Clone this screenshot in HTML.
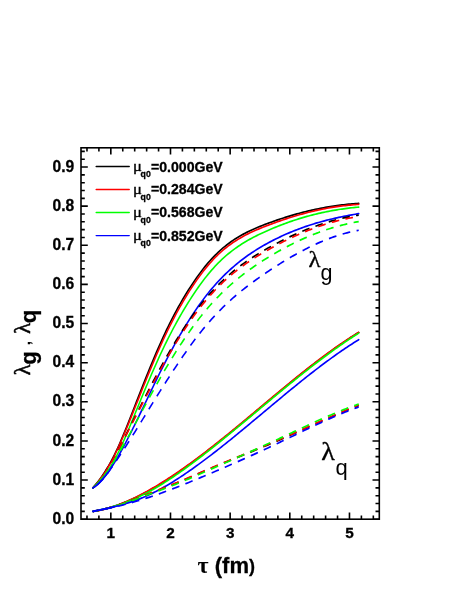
<!DOCTYPE html>
<html><head><meta charset="utf-8"><title>chart</title>
<style>html,body{margin:0;padding:0;background:#fff;}body{width:458px;height:592px;position:relative;overflow:hidden;font-family:"Liberation Sans",sans-serif;}</style>
</head><body>
<svg width="458" height="592" viewBox="0 0 458 592" style="position:absolute;left:0;top:0;will-change:transform">
<rect x="0" y="0" width="458" height="592" fill="#fff"/>
<g fill="none" stroke-width="1.55" stroke-linecap="butt" stroke-linejoin="round" transform="scale(1,1.10)">
<path d="M92.93 443.54 L94.60 441.73 L96.28 439.85 L97.95 437.90 L99.62 435.88 L101.29 433.78 L102.96 431.59 L104.63 429.30 L106.30 426.90 L107.98 424.40 L109.65 421.77 L111.32 419.02 L112.99 416.13 L114.66 413.10 L116.33 409.93 L118.01 406.63 L119.68 403.22 L121.35 399.71 L123.02 396.10 L124.69 392.41 L126.36 388.66 L128.04 384.85 L129.71 380.99 L131.38 377.11 L133.05 373.20 L134.72 369.29 L136.39 365.38 L138.07 361.48 L139.74 357.59 L141.41 353.71 L143.08 349.86 L144.75 346.03 L146.42 342.22 L148.09 338.45 L149.77 334.71 L151.44 331.01 L153.11 327.35 L154.78 323.73 L156.45 320.17 L158.12 316.66 L159.80 313.20 L161.47 309.80 L163.14 306.47 L164.81 303.20 L166.48 300.00 L168.15 296.86 L169.83 293.79 L171.50 290.79 L173.17 287.84 L174.84 284.96 L176.51 282.14 L178.18 279.37 L179.86 276.67 L181.53 274.01 L183.20 271.42 L184.87 268.87 L186.54 266.38 L188.21 263.94 L189.89 261.56 L191.56 259.22 L193.23 256.94 L194.90 254.71 L196.57 252.53 L198.24 250.40 L199.91 248.33 L201.59 246.31 L203.26 244.35 L204.93 242.44 L206.60 240.59 L208.27 238.80 L209.94 237.07 L211.62 235.39 L213.29 233.77 L214.96 232.20 L216.63 230.69 L218.30 229.23 L219.97 227.83 L221.65 226.48 L223.32 225.17 L224.99 223.92 L226.66 222.71 L228.33 221.55 L230.00 220.43 L231.68 219.35 L233.35 218.31 L235.02 217.31 L236.69 216.35 L238.36 215.42 L240.03 214.53 L241.70 213.66 L243.38 212.83 L245.05 212.03 L246.72 211.25 L248.39 210.49 L250.06 209.76 L251.73 209.06 L253.41 208.37 L255.08 207.70 L256.75 207.05 L258.42 206.42 L260.09 205.80 L261.76 205.19 L263.44 204.60 L265.11 204.01 L266.78 203.44 L268.45 202.87 L270.12 202.31 L271.79 201.76 L273.47 201.22 L275.14 200.68 L276.81 200.16 L278.48 199.64 L280.15 199.13 L281.82 198.63 L283.50 198.13 L285.17 197.65 L286.84 197.17 L288.51 196.71 L290.18 196.25 L291.85 195.80 L293.52 195.35 L295.20 194.92 L296.87 194.49 L298.54 194.08 L300.21 193.67 L301.88 193.27 L303.55 192.88 L305.23 192.49 L306.90 192.12 L308.57 191.76 L310.24 191.40 L311.91 191.05 L313.58 190.71 L315.26 190.38 L316.93 190.06 L318.60 189.75 L320.27 189.44 L321.94 189.15 L323.61 188.86 L325.29 188.59 L326.96 188.32 L328.63 188.06 L330.30 187.81 L331.97 187.57 L333.64 187.33 L335.31 187.11 L336.99 186.90 L338.66 186.69 L340.33 186.49 L342.00 186.31 L343.67 186.13 L345.34 185.96 L347.02 185.80 L348.69 185.65 L350.36 185.51 L352.03 185.38 L353.70 185.25 L355.37 185.14 L357.05 185.04 L358.72 184.94" stroke="#000000" stroke-linecap="round"/>
<path d="M92.93 443.54 L94.60 441.84 L96.28 440.06 L97.95 438.19 L99.62 436.22 L101.29 434.15 L102.96 431.99 L104.63 429.72 L106.30 427.34 L107.98 424.85 L109.65 422.24 L111.32 419.51 L112.99 416.66 L114.66 413.68 L116.33 410.58 L118.01 407.36 L119.68 404.03 L121.35 400.62 L123.02 397.12 L124.69 393.54 L126.36 389.90 L128.04 386.21 L129.71 382.47 L131.38 378.70 L133.05 374.90 L134.72 371.09 L136.39 367.28 L138.07 363.47 L139.74 359.66 L141.41 355.86 L143.08 352.07 L144.75 348.30 L146.42 344.55 L148.09 340.82 L149.77 337.13 L151.44 333.46 L153.11 329.84 L154.78 326.25 L156.45 322.71 L158.12 319.22 L159.80 315.78 L161.47 312.39 L163.14 309.06 L164.81 305.80 L166.48 302.60 L168.15 299.46 L169.83 296.39 L171.50 293.38 L173.17 290.42 L174.84 287.53 L176.51 284.70 L178.18 281.92 L179.86 279.19 L181.53 276.53 L183.20 273.91 L184.87 271.35 L186.54 268.84 L188.21 266.38 L189.89 263.97 L191.56 261.61 L193.23 259.31 L194.90 257.05 L196.57 254.85 L198.24 252.70 L199.91 250.61 L201.59 248.57 L203.26 246.58 L204.93 244.66 L206.60 242.79 L208.27 240.98 L209.94 239.22 L211.62 237.53 L213.29 235.89 L214.96 234.31 L216.63 232.79 L218.30 231.32 L219.97 229.90 L221.65 228.54 L223.32 227.22 L224.99 225.95 L226.66 224.74 L228.33 223.56 L230.00 222.43 L231.68 221.35 L233.35 220.30 L235.02 219.29 L236.69 218.32 L238.36 217.38 L240.03 216.48 L241.70 215.61 L243.38 214.77 L245.05 213.95 L246.72 213.17 L248.39 212.40 L250.06 211.66 L251.73 210.95 L253.41 210.25 L255.08 209.57 L256.75 208.91 L258.42 208.26 L260.09 207.63 L261.76 207.01 L263.44 206.40 L265.11 205.80 L266.78 205.21 L268.45 204.63 L270.12 204.05 L271.79 203.49 L273.47 202.92 L275.14 202.37 L276.81 201.82 L278.48 201.29 L280.15 200.76 L281.82 200.23 L283.50 199.72 L285.17 199.21 L286.84 198.71 L288.51 198.22 L290.18 197.74 L291.85 197.27 L293.52 196.80 L295.20 196.34 L296.87 195.89 L298.54 195.45 L300.21 195.02 L301.88 194.60 L303.55 194.18 L305.23 193.78 L306.90 193.38 L308.57 192.99 L310.24 192.62 L311.91 192.25 L313.58 191.88 L315.26 191.53 L316.93 191.19 L318.60 190.86 L320.27 190.53 L321.94 190.22 L323.61 189.92 L325.29 189.62 L326.96 189.33 L328.63 189.06 L330.30 188.79 L331.97 188.54 L333.64 188.29 L335.31 188.06 L336.99 187.83 L338.66 187.61 L340.33 187.41 L342.00 187.21 L343.67 187.03 L345.34 186.85 L347.02 186.69 L348.69 186.53 L350.36 186.39 L352.03 186.26 L353.70 186.14 L355.37 186.03 L357.05 185.93 L358.72 185.84" stroke="#ff0000" stroke-linecap="round"/>
<path d="M92.93 443.54 L94.60 441.98 L96.28 440.40 L97.95 438.78 L99.62 437.11 L101.29 435.38 L102.96 433.58 L104.63 431.69 L106.30 429.70 L107.98 427.59 L109.65 425.36 L111.32 422.99 L112.99 420.47 L114.66 417.78 L116.33 414.93 L118.01 411.93 L119.68 408.80 L121.35 405.54 L123.02 402.18 L124.69 398.72 L126.36 395.19 L128.04 391.59 L129.71 387.94 L131.38 384.25 L133.05 380.54 L134.72 376.82 L136.39 373.10 L138.07 369.40 L139.74 365.70 L141.41 362.02 L143.08 358.36 L144.75 354.72 L146.42 351.10 L148.09 347.51 L149.77 343.96 L151.44 340.43 L153.11 336.94 L154.78 333.49 L156.45 330.08 L158.12 326.72 L159.80 323.40 L161.47 320.14 L163.14 316.93 L164.81 313.77 L166.48 310.66 L168.15 307.62 L169.83 304.63 L171.50 301.69 L173.17 298.80 L174.84 295.97 L176.51 293.18 L178.18 290.45 L179.86 287.76 L181.53 285.12 L183.20 282.53 L184.87 279.99 L186.54 277.48 L188.21 275.03 L189.89 272.62 L191.56 270.25 L193.23 267.93 L194.90 265.65 L196.57 263.42 L198.24 261.24 L199.91 259.11 L201.59 257.02 L203.26 254.99 L204.93 253.01 L206.60 251.08 L208.27 249.20 L209.94 247.38 L211.62 245.61 L213.29 243.90 L214.96 242.24 L216.63 240.63 L218.30 239.07 L219.97 237.56 L221.65 236.10 L223.32 234.69 L224.99 233.32 L226.66 232.00 L228.33 230.72 L230.00 229.49 L231.68 228.29 L233.35 227.13 L235.02 226.01 L236.69 224.93 L238.36 223.88 L240.03 222.87 L241.70 221.88 L243.38 220.93 L245.05 220.00 L246.72 219.10 L248.39 218.23 L250.06 217.38 L251.73 216.55 L253.41 215.75 L255.08 214.96 L256.75 214.20 L258.42 213.45 L260.09 212.72 L261.76 212.00 L263.44 211.30 L265.11 210.61 L266.78 209.93 L268.45 209.26 L270.12 208.60 L271.79 207.96 L273.47 207.32 L275.14 206.69 L276.81 206.08 L278.48 205.47 L280.15 204.88 L281.82 204.30 L283.50 203.72 L285.17 203.16 L286.84 202.61 L288.51 202.06 L290.18 201.53 L291.85 201.01 L293.52 200.50 L295.20 200.00 L296.87 199.51 L298.54 199.03 L300.21 198.55 L301.88 198.09 L303.55 197.64 L305.23 197.20 L306.90 196.77 L308.57 196.35 L310.24 195.94 L311.91 195.54 L313.58 195.15 L315.26 194.77 L316.93 194.40 L318.60 194.04 L320.27 193.69 L321.94 193.35 L323.61 193.02 L325.29 192.70 L326.96 192.39 L328.63 192.09 L330.30 191.80 L331.97 191.51 L333.64 191.24 L335.31 190.98 L336.99 190.73 L338.66 190.48 L340.33 190.25 L342.00 190.03 L343.67 189.81 L345.34 189.61 L347.02 189.41 L348.69 189.22 L350.36 189.05 L352.03 188.88 L353.70 188.72 L355.37 188.57 L357.05 188.43 L358.72 188.30" stroke="#00ff00" stroke-linecap="round"/>
<path d="M92.93 443.54 L94.60 442.51 L96.28 441.33 L97.95 440.01 L99.62 438.55 L101.29 436.97 L102.96 435.26 L104.63 433.43 L106.30 431.48 L107.98 429.43 L109.65 427.28 L111.32 425.03 L112.99 422.68 L114.66 420.25 L116.33 417.74 L118.01 415.16 L119.68 412.50 L121.35 409.78 L123.02 406.99 L124.69 404.15 L126.36 401.26 L128.04 398.31 L129.71 395.33 L131.38 392.31 L133.05 389.26 L134.72 386.17 L136.39 383.07 L138.07 379.94 L139.74 376.80 L141.41 373.65 L143.08 370.48 L144.75 367.31 L146.42 364.14 L148.09 360.97 L149.77 357.80 L151.44 354.63 L153.11 351.48 L154.78 348.34 L156.45 345.22 L158.12 342.12 L159.80 339.05 L161.47 336.00 L163.14 332.98 L164.81 329.99 L166.48 327.05 L168.15 324.14 L169.83 321.26 L171.50 318.43 L173.17 315.63 L174.84 312.87 L176.51 310.15 L178.18 307.47 L179.86 304.83 L181.53 302.23 L183.20 299.67 L184.87 297.16 L186.54 294.68 L188.21 292.24 L189.89 289.85 L191.56 287.49 L193.23 285.18 L194.90 282.92 L196.57 280.69 L198.24 278.51 L199.91 276.37 L201.59 274.28 L203.26 272.23 L204.93 270.23 L206.60 268.27 L208.27 266.36 L209.94 264.49 L211.62 262.66 L213.29 260.88 L214.96 259.14 L216.63 257.44 L218.30 255.79 L219.97 254.17 L221.65 252.59 L223.32 251.04 L224.99 249.54 L226.66 248.07 L228.33 246.64 L230.00 245.24 L231.68 243.87 L233.35 242.54 L235.02 241.24 L236.69 239.97 L238.36 238.74 L240.03 237.53 L241.70 236.35 L243.38 235.20 L245.05 234.07 L246.72 232.97 L248.39 231.90 L250.06 230.85 L251.73 229.83 L253.41 228.83 L255.08 227.85 L256.75 226.89 L258.42 225.95 L260.09 225.03 L261.76 224.13 L263.44 223.25 L265.11 222.39 L266.78 221.54 L268.45 220.71 L270.12 219.90 L271.79 219.10 L273.47 218.31 L275.14 217.54 L276.81 216.79 L278.48 216.05 L280.15 215.32 L281.82 214.61 L283.50 213.91 L285.17 213.23 L286.84 212.56 L288.51 211.91 L290.18 211.27 L291.85 210.64 L293.52 210.02 L295.20 209.42 L296.87 208.83 L298.54 208.25 L300.21 207.69 L301.88 207.13 L303.55 206.59 L305.23 206.06 L306.90 205.55 L308.57 205.04 L310.24 204.55 L311.91 204.06 L313.58 203.59 L315.26 203.13 L316.93 202.68 L318.60 202.24 L320.27 201.80 L321.94 201.38 L323.61 200.97 L325.29 200.57 L326.96 200.18 L328.63 199.80 L330.30 199.42 L331.97 199.06 L333.64 198.70 L335.31 198.35 L336.99 198.01 L338.66 197.68 L340.33 197.36 L342.00 197.04 L343.67 196.73 L345.34 196.43 L347.02 196.14 L348.69 195.85 L350.36 195.57 L352.03 195.30 L353.70 195.03 L355.37 194.77 L357.05 194.51 L358.72 194.26" stroke="#0000ff" stroke-linecap="round"/>
<path d="M92.93 443.54 L94.60 442.05 L96.28 440.41 L97.95 438.61 L99.62 436.67 L101.29 434.60 L102.96 432.42 L104.63 430.12 L106.30 427.73 L107.98 425.24 L109.65 422.68 L111.32 420.05 L112.99 417.36 L114.66 414.63 L116.33 411.85 L118.01 409.04 L119.68 406.19 L121.35 403.32 L123.02 400.41 L124.69 397.48 L126.36 394.53 L128.04 391.57 L129.71 388.58 L131.38 385.59 L133.05 382.59 L134.72 379.58 L136.39 376.58 L138.07 373.57 L139.74 370.56 L141.41 367.56 L143.08 364.57 L144.75 361.58 L146.42 358.61 L148.09 355.65 L149.77 352.70 L151.44 349.76 L153.11 346.85 L154.78 343.95 L156.45 341.08 L158.12 338.23 L159.80 335.41 L161.47 332.62 L163.14 329.85 L164.81 327.12 L166.48 324.42 L168.15 321.75 L169.83 319.12 L171.50 316.53 L173.17 313.96 L174.84 311.44 L176.51 308.95 L178.18 306.49 L179.86 304.07 L181.53 301.69 L183.20 299.34 L184.87 297.03 L186.54 294.76 L188.21 292.52 L189.89 290.32 L191.56 288.16 L193.23 286.04 L194.90 283.96 L196.57 281.92 L198.24 279.91 L199.91 277.95 L201.59 276.02 L203.26 274.14 L204.93 272.30 L206.60 270.49 L208.27 268.73 L209.94 267.01 L211.62 265.32 L213.29 263.68 L214.96 262.07 L216.63 260.50 L218.30 258.97 L219.97 257.47 L221.65 256.00 L223.32 254.57 L224.99 253.16 L226.66 251.80 L228.33 250.46 L230.00 249.15 L231.68 247.87 L233.35 246.62 L235.02 245.39 L236.69 244.19 L238.36 243.02 L240.03 241.87 L241.70 240.75 L243.38 239.65 L245.05 238.57 L246.72 237.51 L248.39 236.47 L250.06 235.45 L251.73 234.46 L253.41 233.47 L255.08 232.51 L256.75 231.56 L258.42 230.63 L260.09 229.71 L261.76 228.81 L263.44 227.91 L265.11 227.03 L266.78 226.17 L268.45 225.31 L270.12 224.46 L271.79 223.62 L273.47 222.80 L275.14 221.98 L276.81 221.18 L278.48 220.38 L280.15 219.60 L281.82 218.83 L283.50 218.07 L285.17 217.32 L286.84 216.58 L288.51 215.85 L290.18 215.13 L291.85 214.42 L293.52 213.73 L295.20 213.05 L296.87 212.37 L298.54 211.71 L300.21 211.06 L301.88 210.42 L303.55 209.79 L305.23 209.17 L306.90 208.57 L308.57 207.97 L310.24 207.39 L311.91 206.82 L313.58 206.25 L315.26 205.71 L316.93 205.17 L318.60 204.64 L320.27 204.12 L321.94 203.62 L323.61 203.13 L325.29 202.65 L326.96 202.18 L328.63 201.72 L330.30 201.27 L331.97 200.84 L333.64 200.42 L335.31 200.01 L336.99 199.61 L338.66 199.22 L340.33 198.84 L342.00 198.48 L343.67 198.13 L345.34 197.79 L347.02 197.46 L348.69 197.14 L350.36 196.84 L352.03 196.54 L353.70 196.26 L355.37 195.99 L357.05 195.74 L358.72 195.49" stroke="#000000" stroke-dasharray="7.62 6.31" stroke-dashoffset="-1.37"/>
<path d="M92.93 443.54 L94.60 442.10 L96.28 440.48 L97.95 438.71 L99.62 436.80 L101.29 434.75 L102.96 432.57 L104.63 430.29 L106.30 427.90 L107.98 425.43 L109.65 422.88 L111.32 420.26 L112.99 417.59 L114.66 414.87 L116.33 412.12 L118.01 409.34 L119.68 406.52 L121.35 403.68 L123.02 400.82 L124.69 397.93 L126.36 395.03 L128.04 392.11 L129.71 389.19 L131.38 386.25 L133.05 383.31 L134.72 380.37 L136.39 377.43 L138.07 374.49 L139.74 371.55 L141.41 368.62 L143.08 365.70 L144.75 362.79 L146.42 359.88 L148.09 356.99 L149.77 354.11 L151.44 351.25 L153.11 348.40 L154.78 345.57 L156.45 342.76 L158.12 339.97 L159.80 337.20 L161.47 334.46 L163.14 331.74 L164.81 329.05 L166.48 326.38 L168.15 323.75 L169.83 321.14 L171.50 318.56 L173.17 316.02 L174.84 313.50 L176.51 311.02 L178.18 308.57 L179.86 306.15 L181.53 303.76 L183.20 301.41 L184.87 299.09 L186.54 296.81 L188.21 294.56 L189.89 292.35 L191.56 290.17 L193.23 288.03 L194.90 285.93 L196.57 283.87 L198.24 281.85 L199.91 279.87 L201.59 277.92 L203.26 276.02 L204.93 274.16 L206.60 272.34 L208.27 270.56 L209.94 268.83 L211.62 267.13 L213.29 265.48 L214.96 263.86 L216.63 262.28 L218.30 260.73 L219.97 259.23 L221.65 257.75 L223.32 256.31 L224.99 254.91 L226.66 253.53 L228.33 252.19 L230.00 250.88 L231.68 249.59 L233.35 248.34 L235.02 247.11 L236.69 245.91 L238.36 244.74 L240.03 243.59 L241.70 242.46 L243.38 241.36 L245.05 240.28 L246.72 239.22 L248.39 238.18 L250.06 237.16 L251.73 236.16 L253.41 235.17 L255.08 234.20 L256.75 233.25 L258.42 232.32 L260.09 231.39 L261.76 230.48 L263.44 229.59 L265.11 228.70 L266.78 227.82 L268.45 226.96 L270.12 226.10 L271.79 225.25 L273.47 224.42 L275.14 223.59 L276.81 222.77 L278.48 221.97 L280.15 221.17 L281.82 220.39 L283.50 219.62 L285.17 218.85 L286.84 218.10 L288.51 217.36 L290.18 216.63 L291.85 215.90 L293.52 215.20 L295.20 214.50 L296.87 213.81 L298.54 213.13 L300.21 212.47 L301.88 211.82 L303.55 211.17 L305.23 210.54 L306.90 209.93 L308.57 209.32 L310.24 208.72 L311.91 208.14 L313.58 207.57 L315.26 207.01 L316.93 206.46 L318.60 205.92 L320.27 205.40 L321.94 204.89 L323.61 204.39 L325.29 203.91 L326.96 203.43 L328.63 202.97 L330.30 202.52 L331.97 202.09 L333.64 201.66 L335.31 201.25 L336.99 200.86 L338.66 200.47 L340.33 200.10 L342.00 199.74 L343.67 199.40 L345.34 199.07 L347.02 198.75 L348.69 198.44 L350.36 198.15 L352.03 197.88 L353.70 197.61 L355.37 197.36 L357.05 197.13 L358.72 196.91" stroke="#ff0000" stroke-dasharray="7.66 6.34" stroke-dashoffset="-1.37"/>
<path d="M92.93 443.54 L94.60 442.12 L96.28 440.60 L97.95 438.99 L99.62 437.29 L101.29 435.50 L102.96 433.62 L104.63 431.66 L106.30 429.63 L107.98 427.51 L109.65 425.32 L111.32 423.06 L112.99 420.73 L114.66 418.33 L116.33 415.87 L118.01 413.36 L119.68 410.79 L121.35 408.17 L123.02 405.51 L124.69 402.81 L126.36 400.08 L128.04 397.33 L129.71 394.54 L131.38 391.74 L133.05 388.93 L134.72 386.11 L136.39 383.28 L138.07 380.45 L139.74 377.62 L141.41 374.80 L143.08 371.97 L144.75 369.16 L146.42 366.35 L148.09 363.54 L149.77 360.75 L151.44 357.97 L153.11 355.21 L154.78 352.46 L156.45 349.73 L158.12 347.02 L159.80 344.34 L161.47 341.67 L163.14 339.03 L164.81 336.42 L166.48 333.84 L168.15 331.29 L169.83 328.76 L171.50 326.27 L173.17 323.80 L174.84 321.37 L176.51 318.97 L178.18 316.59 L179.86 314.25 L181.53 311.94 L183.20 309.66 L184.87 307.42 L186.54 305.20 L188.21 303.02 L189.89 300.87 L191.56 298.75 L193.23 296.67 L194.90 294.62 L196.57 292.61 L198.24 290.63 L199.91 288.68 L201.59 286.77 L203.26 284.89 L204.93 283.05 L206.60 281.24 L208.27 279.47 L209.94 277.74 L211.62 276.04 L213.29 274.37 L214.96 272.74 L216.63 271.14 L218.30 269.57 L219.97 268.03 L221.65 266.52 L223.32 265.04 L224.99 263.59 L226.66 262.17 L228.33 260.77 L230.00 259.41 L231.68 258.07 L233.35 256.75 L235.02 255.46 L236.69 254.19 L238.36 252.95 L240.03 251.73 L241.70 250.53 L243.38 249.36 L245.05 248.20 L246.72 247.07 L248.39 245.95 L250.06 244.85 L251.73 243.78 L253.41 242.71 L255.08 241.67 L256.75 240.64 L258.42 239.63 L260.09 238.63 L261.76 237.64 L263.44 236.67 L265.11 235.71 L266.78 234.77 L268.45 233.83 L270.12 232.91 L271.79 231.99 L273.47 231.09 L275.14 230.21 L276.81 229.33 L278.48 228.46 L280.15 227.61 L281.82 226.77 L283.50 225.94 L285.17 225.12 L286.84 224.32 L288.51 223.53 L290.18 222.74 L291.85 221.98 L293.52 221.22 L295.20 220.47 L296.87 219.74 L298.54 219.02 L300.21 218.31 L301.88 217.62 L303.55 216.93 L305.23 216.26 L306.90 215.60 L308.57 214.95 L310.24 214.32 L311.91 213.70 L313.58 213.09 L315.26 212.49 L316.93 211.91 L318.60 211.33 L320.27 210.78 L321.94 210.23 L323.61 209.69 L325.29 209.17 L326.96 208.66 L328.63 208.17 L330.30 207.68 L331.97 207.21 L333.64 206.76 L335.31 206.31 L336.99 205.88 L338.66 205.46 L340.33 205.05 L342.00 204.66 L343.67 204.28 L345.34 203.91 L347.02 203.56 L348.69 203.22 L350.36 202.89 L352.03 202.57 L353.70 202.27 L355.37 201.98 L357.05 201.71 L358.72 201.45" stroke="#00ff00" stroke-dasharray="7.72 6.39" stroke-dashoffset="-1.37"/>
<path d="M92.93 443.54 L94.60 442.60 L96.28 441.49 L97.95 440.20 L99.62 438.77 L101.29 437.19 L102.96 435.49 L104.63 433.67 L106.30 431.75 L107.98 429.75 L109.65 427.67 L111.32 425.53 L112.99 423.34 L114.66 421.12 L116.33 418.88 L118.01 416.61 L119.68 414.31 L121.35 411.99 L123.02 409.66 L124.69 407.30 L126.36 404.93 L128.04 402.54 L129.71 400.14 L131.38 397.72 L133.05 395.30 L134.72 392.86 L136.39 390.42 L138.07 387.97 L139.74 385.51 L141.41 383.05 L143.08 380.58 L144.75 378.12 L146.42 375.65 L148.09 373.19 L149.77 370.72 L151.44 368.26 L153.11 365.80 L154.78 363.35 L156.45 360.90 L158.12 358.46 L159.80 356.03 L161.47 353.60 L163.14 351.19 L164.81 348.79 L166.48 346.41 L168.15 344.04 L169.83 341.68 L171.50 339.34 L173.17 337.01 L174.84 334.71 L176.51 332.42 L178.18 330.15 L179.86 327.90 L181.53 325.67 L183.20 323.46 L184.87 321.28 L186.54 319.12 L188.21 316.98 L189.89 314.87 L191.56 312.79 L193.23 310.73 L194.90 308.71 L196.57 306.71 L198.24 304.74 L199.91 302.80 L201.59 300.89 L203.26 299.01 L204.93 297.17 L206.60 295.36 L208.27 293.59 L209.94 291.85 L211.62 290.14 L213.29 288.47 L214.96 286.82 L216.63 285.21 L218.30 283.63 L219.97 282.08 L221.65 280.56 L223.32 279.06 L224.99 277.59 L226.66 276.15 L228.33 274.74 L230.00 273.35 L231.68 271.98 L233.35 270.64 L235.02 269.32 L236.69 268.02 L238.36 266.74 L240.03 265.48 L241.70 264.25 L243.38 263.03 L245.05 261.83 L246.72 260.65 L248.39 259.49 L250.06 258.34 L251.73 257.20 L253.41 256.09 L255.08 254.98 L256.75 253.89 L258.42 252.81 L260.09 251.74 L261.76 250.69 L263.44 249.64 L265.11 248.60 L266.78 247.57 L268.45 246.55 L270.12 245.54 L271.79 244.54 L273.47 243.54 L275.14 242.56 L276.81 241.58 L278.48 240.62 L280.15 239.66 L281.82 238.72 L283.50 237.78 L285.17 236.85 L286.84 235.94 L288.51 235.04 L290.18 234.14 L291.85 233.26 L293.52 232.39 L295.20 231.53 L296.87 230.68 L298.54 229.85 L300.21 229.02 L301.88 228.21 L303.55 227.41 L305.23 226.63 L306.90 225.85 L308.57 225.09 L310.24 224.34 L311.91 223.61 L313.58 222.89 L315.26 222.18 L316.93 221.49 L318.60 220.82 L320.27 220.15 L321.94 219.50 L323.61 218.87 L325.29 218.25 L326.96 217.65 L328.63 217.06 L330.30 216.49 L331.97 215.93 L333.64 215.39 L335.31 214.86 L336.99 214.36 L338.66 213.87 L340.33 213.39 L342.00 212.93 L343.67 212.49 L345.34 212.07 L347.02 211.66 L348.69 211.28 L350.36 210.91 L352.03 210.55 L353.70 210.22 L355.37 209.91 L357.05 209.61 L358.72 209.33" stroke="#0000ff" stroke-dasharray="7.81 6.47" stroke-dashoffset="-5.51"/>
<path d="M92.93 464.99 L94.60 464.75 L96.28 464.48 L97.95 464.19 L99.62 463.88 L101.29 463.55 L102.96 463.19 L104.63 462.81 L106.30 462.42 L107.98 462.00 L109.65 461.56 L111.32 461.10 L112.99 460.63 L114.66 460.13 L116.33 459.61 L118.01 459.08 L119.68 458.52 L121.35 457.95 L123.02 457.36 L124.69 456.75 L126.36 456.13 L128.04 455.49 L129.71 454.83 L131.38 454.15 L133.05 453.46 L134.72 452.75 L136.39 452.02 L138.07 451.28 L139.74 450.53 L141.41 449.76 L143.08 448.97 L144.75 448.17 L146.42 447.36 L148.09 446.53 L149.77 445.69 L151.44 444.83 L153.11 443.96 L154.78 443.08 L156.45 442.19 L158.12 441.28 L159.80 440.36 L161.47 439.43 L163.14 438.48 L164.81 437.53 L166.48 436.56 L168.15 435.58 L169.83 434.59 L171.50 433.59 L173.17 432.58 L174.84 431.56 L176.51 430.53 L178.18 429.49 L179.86 428.44 L181.53 427.38 L183.20 426.32 L184.87 425.24 L186.54 424.15 L188.21 423.06 L189.89 421.96 L191.56 420.85 L193.23 419.73 L194.90 418.61 L196.57 417.47 L198.24 416.33 L199.91 415.19 L201.59 414.03 L203.26 412.88 L204.93 411.71 L206.60 410.54 L208.27 409.36 L209.94 408.18 L211.62 406.99 L213.29 405.80 L214.96 404.60 L216.63 403.39 L218.30 402.18 L219.97 400.97 L221.65 399.75 L223.32 398.53 L224.99 397.30 L226.66 396.07 L228.33 394.83 L230.00 393.59 L231.68 392.35 L233.35 391.11 L235.02 389.86 L236.69 388.61 L238.36 387.35 L240.03 386.09 L241.70 384.83 L243.38 383.57 L245.05 382.30 L246.72 381.04 L248.39 379.77 L250.06 378.50 L251.73 377.23 L253.41 375.96 L255.08 374.68 L256.75 373.41 L258.42 372.14 L260.09 370.86 L261.76 369.59 L263.44 368.31 L265.11 367.04 L266.78 365.76 L268.45 364.49 L270.12 363.22 L271.79 361.94 L273.47 360.67 L275.14 359.41 L276.81 358.14 L278.48 356.87 L280.15 355.61 L281.82 354.35 L283.50 353.09 L285.17 351.84 L286.84 350.58 L288.51 349.33 L290.18 348.09 L291.85 346.85 L293.52 345.61 L295.20 344.37 L296.87 343.14 L298.54 341.92 L300.21 340.69 L301.88 339.48 L303.55 338.26 L305.23 337.06 L306.90 335.86 L308.57 334.66 L310.24 333.47 L311.91 332.29 L313.58 331.11 L315.26 329.93 L316.93 328.77 L318.60 327.61 L320.27 326.46 L321.94 325.31 L323.61 324.18 L325.29 323.05 L326.96 321.92 L328.63 320.81 L330.30 319.70 L331.97 318.60 L333.64 317.51 L335.31 316.43 L336.99 315.36 L338.66 314.30 L340.33 313.24 L342.00 312.20 L343.67 311.16 L345.34 310.13 L347.02 309.12 L348.69 308.11 L350.36 307.11 L352.03 306.13 L353.70 305.15 L355.37 304.18 L357.05 303.23 L358.72 302.29" stroke="#000000" stroke-linecap="round"/>
<path d="M92.93 464.99 L94.60 464.76 L96.28 464.51 L97.95 464.24 L99.62 463.94 L101.29 463.61 L102.96 463.26 L104.63 462.88 L106.30 462.48 L107.98 462.06 L109.65 461.61 L111.32 461.14 L112.99 460.65 L114.66 460.14 L116.33 459.61 L118.01 459.05 L119.68 458.48 L121.35 457.88 L123.02 457.27 L124.69 456.64 L126.36 455.99 L128.04 455.33 L129.71 454.64 L131.38 453.94 L133.05 453.23 L134.72 452.49 L136.39 451.75 L138.07 450.99 L139.74 450.21 L141.41 449.42 L143.08 448.62 L144.75 447.80 L146.42 446.97 L148.09 446.13 L149.77 445.27 L151.44 444.40 L153.11 443.52 L154.78 442.63 L156.45 441.73 L158.12 440.81 L159.80 439.88 L161.47 438.95 L163.14 438.00 L164.81 437.04 L166.48 436.07 L168.15 435.09 L169.83 434.09 L171.50 433.09 L173.17 432.08 L174.84 431.06 L176.51 430.03 L178.18 428.99 L179.86 427.94 L181.53 426.88 L183.20 425.82 L184.87 424.74 L186.54 423.66 L188.21 422.56 L189.89 421.46 L191.56 420.36 L193.23 419.24 L194.90 418.12 L196.57 416.99 L198.24 415.85 L199.91 414.71 L201.59 413.56 L203.26 412.40 L204.93 411.24 L206.60 410.07 L208.27 408.90 L209.94 407.71 L211.62 406.53 L213.29 405.34 L214.96 404.14 L216.63 402.94 L218.30 401.73 L219.97 400.51 L221.65 399.30 L223.32 398.08 L224.99 396.85 L226.66 395.62 L228.33 394.39 L230.00 393.15 L231.68 391.91 L233.35 390.66 L235.02 389.41 L236.69 388.16 L238.36 386.91 L240.03 385.65 L241.70 384.39 L243.38 383.13 L245.05 381.87 L246.72 380.60 L248.39 379.34 L250.06 378.07 L251.73 376.80 L253.41 375.53 L255.08 374.25 L256.75 372.98 L258.42 371.71 L260.09 370.44 L261.76 369.16 L263.44 367.89 L265.11 366.62 L266.78 365.34 L268.45 364.07 L270.12 362.80 L271.79 361.53 L273.47 360.26 L275.14 358.99 L276.81 357.73 L278.48 356.47 L280.15 355.20 L281.82 353.95 L283.50 352.69 L285.17 351.44 L286.84 350.19 L288.51 348.94 L290.18 347.69 L291.85 346.45 L293.52 345.22 L295.20 343.99 L296.87 342.76 L298.54 341.53 L300.21 340.32 L301.88 339.10 L303.55 337.89 L305.23 336.69 L306.90 335.49 L308.57 334.30 L310.24 333.11 L311.91 331.93 L313.58 330.76 L315.26 329.59 L316.93 328.43 L318.60 327.27 L320.27 326.13 L321.94 324.98 L323.61 323.85 L325.29 322.73 L326.96 321.61 L328.63 320.50 L330.30 319.40 L331.97 318.30 L333.64 317.22 L335.31 316.14 L336.99 315.08 L338.66 314.02 L340.33 312.97 L342.00 311.93 L343.67 310.90 L345.34 309.88 L347.02 308.87 L348.69 307.87 L350.36 306.88 L352.03 305.91 L353.70 304.94 L355.37 303.98 L357.05 303.03 L358.72 302.10" stroke="#ff0000" stroke-linecap="round"/>
<path d="M92.93 464.89 L94.60 464.61 L96.28 464.32 L97.95 464.02 L99.62 463.70 L101.29 463.37 L102.96 463.02 L104.63 462.65 L106.30 462.27 L107.98 461.88 L109.65 461.47 L111.32 461.04 L112.99 460.60 L114.66 460.14 L116.33 459.67 L118.01 459.18 L119.68 458.67 L121.35 458.14 L123.02 457.60 L124.69 457.05 L126.36 456.47 L128.04 455.88 L129.71 455.27 L131.38 454.65 L133.05 454.00 L134.72 453.34 L136.39 452.66 L138.07 451.97 L139.74 451.25 L141.41 450.52 L143.08 449.77 L144.75 449.00 L146.42 448.21 L148.09 447.41 L149.77 446.59 L151.44 445.76 L153.11 444.90 L154.78 444.03 L156.45 443.15 L158.12 442.25 L159.80 441.34 L161.47 440.41 L163.14 439.47 L164.81 438.52 L166.48 437.55 L168.15 436.57 L169.83 435.57 L171.50 434.57 L173.17 433.55 L174.84 432.52 L176.51 431.48 L178.18 430.43 L179.86 429.37 L181.53 428.29 L183.20 427.21 L184.87 426.12 L186.54 425.02 L188.21 423.91 L189.89 422.79 L191.56 421.67 L193.23 420.53 L194.90 419.39 L196.57 418.24 L198.24 417.09 L199.91 415.92 L201.59 414.76 L203.26 413.58 L204.93 412.40 L206.60 411.22 L208.27 410.03 L209.94 408.83 L211.62 407.63 L213.29 406.43 L214.96 405.22 L216.63 404.00 L218.30 402.78 L219.97 401.56 L221.65 400.34 L223.32 399.10 L224.99 397.87 L226.66 396.63 L228.33 395.39 L230.00 394.15 L231.68 392.90 L233.35 391.65 L235.02 390.40 L236.69 389.15 L238.36 387.89 L240.03 386.63 L241.70 385.37 L243.38 384.11 L245.05 382.84 L246.72 381.58 L248.39 380.31 L250.06 379.05 L251.73 377.78 L253.41 376.51 L255.08 375.24 L256.75 373.97 L258.42 372.70 L260.09 371.43 L261.76 370.16 L263.44 368.89 L265.11 367.63 L266.78 366.36 L268.45 365.09 L270.12 363.83 L271.79 362.56 L273.47 361.30 L275.14 360.04 L276.81 358.78 L278.48 357.52 L280.15 356.26 L281.82 355.01 L283.50 353.76 L285.17 352.51 L286.84 351.27 L288.51 350.02 L290.18 348.79 L291.85 347.55 L293.52 346.32 L295.20 345.09 L296.87 343.86 L298.54 342.64 L300.21 341.43 L301.88 340.22 L303.55 339.01 L305.23 337.81 L306.90 336.61 L308.57 335.41 L310.24 334.23 L311.91 333.04 L313.58 331.87 L315.26 330.70 L316.93 329.53 L318.60 328.37 L320.27 327.22 L321.94 326.08 L323.61 324.94 L325.29 323.80 L326.96 322.68 L328.63 321.56 L330.30 320.45 L331.97 319.35 L333.64 318.25 L335.31 317.16 L336.99 316.08 L338.66 315.01 L340.33 313.95 L342.00 312.89 L343.67 311.85 L345.34 310.81 L347.02 309.78 L348.69 308.76 L350.36 307.75 L352.03 306.75 L353.70 305.76 L355.37 304.78 L357.05 303.81 L358.72 302.85" stroke="#00ff00" stroke-linecap="round"/>
<path d="M92.93 464.89 L94.60 464.58 L96.28 464.27 L97.95 463.96 L99.62 463.65 L101.29 463.33 L102.96 463.01 L104.63 462.68 L106.30 462.35 L107.98 462.01 L109.65 461.67 L111.32 461.32 L112.99 460.96 L114.66 460.59 L116.33 460.21 L118.01 459.82 L119.68 459.42 L121.35 459.00 L123.02 458.58 L124.69 458.14 L126.36 457.69 L128.04 457.22 L129.71 456.74 L131.38 456.24 L133.05 455.72 L134.72 455.19 L136.39 454.64 L138.07 454.07 L139.74 453.48 L141.41 452.87 L143.08 452.24 L144.75 451.60 L146.42 450.93 L148.09 450.24 L149.77 449.53 L151.44 448.81 L153.11 448.06 L154.78 447.30 L156.45 446.52 L158.12 445.73 L159.80 444.91 L161.47 444.09 L163.14 443.24 L164.81 442.38 L166.48 441.50 L168.15 440.61 L169.83 439.70 L171.50 438.78 L173.17 437.85 L174.84 436.90 L176.51 435.94 L178.18 434.96 L179.86 433.98 L181.53 432.98 L183.20 431.96 L184.87 430.94 L186.54 429.90 L188.21 428.86 L189.89 427.80 L191.56 426.74 L193.23 425.66 L194.90 424.57 L196.57 423.48 L198.24 422.38 L199.91 421.26 L201.59 420.14 L203.26 419.01 L204.93 417.88 L206.60 416.73 L208.27 415.58 L209.94 414.43 L211.62 413.26 L213.29 412.09 L214.96 410.91 L216.63 409.73 L218.30 408.54 L219.97 407.34 L221.65 406.14 L223.32 404.93 L224.99 403.72 L226.66 402.51 L228.33 401.28 L230.00 400.06 L231.68 398.83 L233.35 397.59 L235.02 396.36 L236.69 395.11 L238.36 393.87 L240.03 392.62 L241.70 391.37 L243.38 390.11 L245.05 388.86 L246.72 387.60 L248.39 386.34 L250.06 385.07 L251.73 383.81 L253.41 382.54 L255.08 381.27 L256.75 380.00 L258.42 378.73 L260.09 377.46 L261.76 376.19 L263.44 374.92 L265.11 373.65 L266.78 372.37 L268.45 371.10 L270.12 369.83 L271.79 368.56 L273.47 367.29 L275.14 366.03 L276.81 364.76 L278.48 363.49 L280.15 362.23 L281.82 360.97 L283.50 359.71 L285.17 358.46 L286.84 357.20 L288.51 355.95 L290.18 354.70 L291.85 353.46 L293.52 352.22 L295.20 350.98 L296.87 349.75 L298.54 348.52 L300.21 347.29 L301.88 346.07 L303.55 344.86 L305.23 343.65 L306.90 342.44 L308.57 341.25 L310.24 340.05 L311.91 338.86 L313.58 337.68 L315.26 336.51 L316.93 335.34 L318.60 334.17 L320.27 333.02 L321.94 331.87 L323.61 330.73 L325.29 329.59 L326.96 328.47 L328.63 327.35 L330.30 326.24 L331.97 325.14 L333.64 324.05 L335.31 322.96 L336.99 321.89 L338.66 320.82 L340.33 319.77 L342.00 318.72 L343.67 317.68 L345.34 316.66 L347.02 315.64 L348.69 314.63 L350.36 313.64 L352.03 312.65 L353.70 311.68 L355.37 310.72 L357.05 309.77 L358.72 308.83" stroke="#0000ff" stroke-linecap="round"/>
<path d="M92.93 464.89 L94.60 464.62 L96.28 464.34 L97.95 464.04 L99.62 463.72 L101.29 463.38 L102.96 463.03 L104.63 462.66 L106.30 462.27 L107.98 461.87 L109.65 461.45 L111.32 461.02 L112.99 460.58 L114.66 460.13 L116.33 459.66 L118.01 459.18 L119.68 458.69 L121.35 458.19 L123.02 457.68 L124.69 457.16 L126.36 456.63 L128.04 456.09 L129.71 455.55 L131.38 455.00 L133.05 454.45 L134.72 453.89 L136.39 453.32 L138.07 452.76 L139.74 452.18 L141.41 451.61 L143.08 451.04 L144.75 450.46 L146.42 449.88 L148.09 449.30 L149.77 448.72 L151.44 448.14 L153.11 447.55 L154.78 446.97 L156.45 446.38 L158.12 445.80 L159.80 445.21 L161.47 444.62 L163.14 444.03 L164.81 443.43 L166.48 442.84 L168.15 442.24 L169.83 441.63 L171.50 441.03 L173.17 440.42 L174.84 439.80 L176.51 439.19 L178.18 438.56 L179.86 437.94 L181.53 437.30 L183.20 436.67 L184.87 436.03 L186.54 435.38 L188.21 434.74 L189.89 434.08 L191.56 433.43 L193.23 432.77 L194.90 432.11 L196.57 431.45 L198.24 430.79 L199.91 430.13 L201.59 429.47 L203.26 428.82 L204.93 428.16 L206.60 427.50 L208.27 426.85 L209.94 426.20 L211.62 425.55 L213.29 424.91 L214.96 424.27 L216.63 423.63 L218.30 422.99 L219.97 422.35 L221.65 421.72 L223.32 421.09 L224.99 420.47 L226.66 419.84 L228.33 419.22 L230.00 418.59 L231.68 417.97 L233.35 417.35 L235.02 416.73 L236.69 416.12 L238.36 415.50 L240.03 414.88 L241.70 414.26 L243.38 413.65 L245.05 413.03 L246.72 412.41 L248.39 411.79 L250.06 411.17 L251.73 410.55 L253.41 409.92 L255.08 409.30 L256.75 408.67 L258.42 408.04 L260.09 407.41 L261.76 406.78 L263.44 406.15 L265.11 405.51 L266.78 404.88 L268.45 404.23 L270.12 403.59 L271.79 402.95 L273.47 402.30 L275.14 401.65 L276.81 400.99 L278.48 400.33 L280.15 399.67 L281.82 399.01 L283.50 398.35 L285.17 397.68 L286.84 397.01 L288.51 396.33 L290.18 395.66 L291.85 394.98 L293.52 394.30 L295.20 393.62 L296.87 392.94 L298.54 392.26 L300.21 391.58 L301.88 390.90 L303.55 390.21 L305.23 389.53 L306.90 388.85 L308.57 388.16 L310.24 387.48 L311.91 386.80 L313.58 386.12 L315.26 385.44 L316.93 384.76 L318.60 384.08 L320.27 383.40 L321.94 382.73 L323.61 382.05 L325.29 381.38 L326.96 380.71 L328.63 380.05 L330.30 379.38 L331.97 378.72 L333.64 378.06 L335.31 377.41 L336.99 376.76 L338.66 376.11 L340.33 375.46 L342.00 374.83 L343.67 374.19 L345.34 373.56 L347.02 372.93 L348.69 372.31 L350.36 371.69 L352.03 371.08 L353.70 370.47 L355.37 369.87 L357.05 369.28 L358.72 368.69" stroke="#000000" stroke-dasharray="7.68 6.36" stroke-dashoffset="-12.00"/>
<path d="M92.93 464.89 L94.60 464.63 L96.28 464.35 L97.95 464.06 L99.62 463.74 L101.29 463.40 L102.96 463.05 L104.63 462.68 L106.30 462.29 L107.98 461.88 L109.65 461.46 L111.32 461.02 L112.99 460.57 L114.66 460.10 L116.33 459.62 L118.01 459.13 L119.68 458.63 L121.35 458.12 L123.02 457.59 L124.69 457.06 L126.36 456.52 L128.04 455.97 L129.71 455.41 L131.38 454.84 L133.05 454.27 L134.72 453.70 L136.39 453.12 L138.07 452.54 L139.74 451.96 L141.41 451.37 L143.08 450.78 L144.75 450.20 L146.42 449.61 L148.09 449.02 L149.77 448.43 L151.44 447.84 L153.11 447.25 L154.78 446.66 L156.45 446.06 L158.12 445.47 L159.80 444.88 L161.47 444.28 L163.14 443.69 L164.81 443.09 L166.48 442.49 L168.15 441.89 L169.83 441.28 L171.50 440.67 L173.17 440.06 L174.84 439.44 L176.51 438.83 L178.18 438.20 L179.86 437.57 L181.53 436.94 L183.20 436.30 L184.87 435.66 L186.54 435.02 L188.21 434.37 L189.89 433.72 L191.56 433.07 L193.23 432.41 L194.90 431.75 L196.57 431.09 L198.24 430.43 L199.91 429.77 L201.59 429.12 L203.26 428.46 L204.93 427.80 L206.60 427.15 L208.27 426.49 L209.94 425.84 L211.62 425.20 L213.29 424.55 L214.96 423.91 L216.63 423.27 L218.30 422.63 L219.97 422.00 L221.65 421.37 L223.32 420.74 L224.99 420.11 L226.66 419.48 L228.33 418.86 L230.00 418.24 L231.68 417.62 L233.35 417.00 L235.02 416.38 L236.69 415.76 L238.36 415.14 L240.03 414.53 L241.70 413.91 L243.38 413.29 L245.05 412.67 L246.72 412.05 L248.39 411.43 L250.06 410.81 L251.73 410.19 L253.41 409.57 L255.08 408.94 L256.75 408.32 L258.42 407.69 L260.09 407.06 L261.76 406.43 L263.44 405.79 L265.11 405.16 L266.78 404.52 L268.45 403.88 L270.12 403.24 L271.79 402.59 L273.47 401.94 L275.14 401.29 L276.81 400.64 L278.48 399.98 L280.15 399.32 L281.82 398.65 L283.50 397.99 L285.17 397.32 L286.84 396.65 L288.51 395.98 L290.18 395.30 L291.85 394.63 L293.52 393.95 L295.20 393.27 L296.87 392.59 L298.54 391.91 L300.21 391.22 L301.88 390.54 L303.55 389.86 L305.23 389.17 L306.90 388.49 L308.57 387.81 L310.24 387.12 L311.91 386.44 L313.58 385.76 L315.26 385.08 L316.93 384.40 L318.60 383.72 L320.27 383.04 L321.94 382.37 L323.61 381.70 L325.29 381.03 L326.96 380.36 L328.63 379.69 L330.30 379.03 L331.97 378.37 L333.64 377.71 L335.31 377.05 L336.99 376.40 L338.66 375.75 L340.33 375.11 L342.00 374.47 L343.67 373.83 L345.34 373.20 L347.02 372.58 L348.69 371.95 L350.36 371.34 L352.03 370.72 L353.70 370.12 L355.37 369.52 L357.05 368.92 L358.72 368.33" stroke="#ff0000" stroke-dasharray="7.68 6.36" stroke-dashoffset="-12.00"/>
<path d="M92.93 464.89 L94.60 464.65 L96.28 464.39 L97.95 464.10 L99.62 463.80 L101.29 463.48 L102.96 463.15 L104.63 462.79 L106.30 462.42 L107.98 462.03 L109.65 461.62 L111.32 461.21 L112.99 460.77 L114.66 460.33 L116.33 459.87 L118.01 459.39 L119.68 458.91 L121.35 458.42 L123.02 457.91 L124.69 457.40 L126.36 456.88 L128.04 456.35 L129.71 455.82 L131.38 455.28 L133.05 454.73 L134.72 454.18 L136.39 453.63 L138.07 453.07 L139.74 452.51 L141.41 451.95 L143.08 451.39 L144.75 450.83 L146.42 450.27 L148.09 449.71 L149.77 449.15 L151.44 448.58 L153.11 448.02 L154.78 447.46 L156.45 446.89 L158.12 446.33 L159.80 445.76 L161.47 445.19 L163.14 444.62 L164.81 444.05 L166.48 443.47 L168.15 442.89 L169.83 442.31 L171.50 441.73 L173.17 441.13 L174.84 440.54 L176.51 439.94 L178.18 439.33 L179.86 438.71 L181.53 438.10 L183.20 437.47 L184.87 436.84 L186.54 436.20 L188.21 435.56 L189.89 434.91 L191.56 434.26 L193.23 433.60 L194.90 432.94 L196.57 432.28 L198.24 431.61 L199.91 430.94 L201.59 430.27 L203.26 429.59 L204.93 428.92 L206.60 428.24 L208.27 427.57 L209.94 426.89 L211.62 426.22 L213.29 425.54 L214.96 424.87 L216.63 424.19 L218.30 423.52 L219.97 422.85 L221.65 422.18 L223.32 421.51 L224.99 420.84 L226.66 420.17 L228.33 419.50 L230.00 418.83 L231.68 418.16 L233.35 417.49 L235.02 416.82 L236.69 416.15 L238.36 415.48 L240.03 414.81 L241.70 414.14 L243.38 413.47 L245.05 412.80 L246.72 412.12 L248.39 411.45 L250.06 410.77 L251.73 410.09 L253.41 409.41 L255.08 408.73 L256.75 408.05 L258.42 407.37 L260.09 406.68 L261.76 405.99 L263.44 405.30 L265.11 404.61 L266.78 403.92 L268.45 403.23 L270.12 402.53 L271.79 401.84 L273.47 401.14 L275.14 400.44 L276.81 399.74 L278.48 399.03 L280.15 398.32 L281.82 397.62 L283.50 396.91 L285.17 396.20 L286.84 395.49 L288.51 394.78 L290.18 394.06 L291.85 393.35 L293.52 392.64 L295.20 391.93 L296.87 391.22 L298.54 390.50 L300.21 389.79 L301.88 389.09 L303.55 388.38 L305.23 387.67 L306.90 386.97 L308.57 386.27 L310.24 385.57 L311.91 384.87 L313.58 384.17 L315.26 383.48 L316.93 382.80 L318.60 382.11 L320.27 381.43 L321.94 380.75 L323.61 380.08 L325.29 379.41 L326.96 378.74 L328.63 378.08 L330.30 377.43 L331.97 376.78 L333.64 376.13 L335.31 375.50 L336.99 374.86 L338.66 374.24 L340.33 373.62 L342.00 373.00 L343.67 372.40 L345.34 371.79 L347.02 371.20 L348.69 370.62 L350.36 370.04 L352.03 369.47 L353.70 368.91 L355.37 368.35 L357.05 367.81 L358.72 367.27" stroke="#00ff00" stroke-dasharray="7.68 6.36" stroke-dashoffset="-12.00"/>
<path d="M92.93 464.89 L94.60 464.62 L96.28 464.34 L97.95 464.06 L99.62 463.78 L101.29 463.48 L102.96 463.18 L104.63 462.88 L106.30 462.56 L107.98 462.24 L109.65 461.92 L111.32 461.58 L112.99 461.24 L114.66 460.90 L116.33 460.54 L118.01 460.18 L119.68 459.81 L121.35 459.43 L123.02 459.05 L124.69 458.66 L126.36 458.26 L128.04 457.86 L129.71 457.45 L131.38 457.03 L133.05 456.60 L134.72 456.16 L136.39 455.72 L138.07 455.27 L139.74 454.81 L141.41 454.35 L143.08 453.87 L144.75 453.39 L146.42 452.90 L148.09 452.41 L149.77 451.90 L151.44 451.39 L153.11 450.88 L154.78 450.35 L156.45 449.82 L158.12 449.29 L159.80 448.75 L161.47 448.20 L163.14 447.65 L164.81 447.09 L166.48 446.52 L168.15 445.95 L169.83 445.38 L171.50 444.80 L173.17 444.22 L174.84 443.63 L176.51 443.04 L178.18 442.44 L179.86 441.84 L181.53 441.24 L183.20 440.63 L184.87 440.02 L186.54 439.41 L188.21 438.80 L189.89 438.18 L191.56 437.55 L193.23 436.93 L194.90 436.30 L196.57 435.68 L198.24 435.05 L199.91 434.41 L201.59 433.78 L203.26 433.14 L204.93 432.51 L206.60 431.87 L208.27 431.23 L209.94 430.59 L211.62 429.95 L213.29 429.30 L214.96 428.65 L216.63 428.01 L218.30 427.36 L219.97 426.70 L221.65 426.05 L223.32 425.40 L224.99 424.74 L226.66 424.08 L228.33 423.42 L230.00 422.76 L231.68 422.09 L233.35 421.43 L235.02 420.76 L236.69 420.09 L238.36 419.42 L240.03 418.75 L241.70 418.07 L243.38 417.39 L245.05 416.71 L246.72 416.03 L248.39 415.35 L250.06 414.66 L251.73 413.97 L253.41 413.28 L255.08 412.59 L256.75 411.90 L258.42 411.20 L260.09 410.50 L261.76 409.80 L263.44 409.10 L265.11 408.39 L266.78 407.68 L268.45 406.97 L270.12 406.26 L271.79 405.54 L273.47 404.83 L275.14 404.11 L276.81 403.39 L278.48 402.66 L280.15 401.94 L281.82 401.21 L283.50 400.48 L285.17 399.74 L286.84 399.01 L288.51 398.28 L290.18 397.54 L291.85 396.80 L293.52 396.07 L295.20 395.33 L296.87 394.60 L298.54 393.86 L300.21 393.13 L301.88 392.40 L303.55 391.66 L305.23 390.93 L306.90 390.21 L308.57 389.48 L310.24 388.76 L311.91 388.03 L313.58 387.32 L315.26 386.60 L316.93 385.89 L318.60 385.18 L320.27 384.48 L321.94 383.78 L323.61 383.08 L325.29 382.39 L326.96 381.71 L328.63 381.03 L330.30 380.36 L331.97 379.69 L333.64 379.03 L335.31 378.37 L336.99 377.72 L338.66 377.08 L340.33 376.44 L342.00 375.82 L343.67 375.20 L345.34 374.58 L347.02 373.98 L348.69 373.38 L350.36 372.80 L352.03 372.22 L353.70 371.65 L355.37 371.09 L357.05 370.54 L358.72 370.01" stroke="#0000ff" stroke-dasharray="7.68 6.36" stroke-dashoffset="-11.70"/>
<path d="M92.93 443.54 L93.72 443.07 L94.50 442.57 L95.29 442.04 L96.07 441.48 L96.86 440.88 L97.64 440.26 L98.43 439.60 L99.21 438.92 L100.00 438.20 L100.78 437.46 L101.57 436.69 L102.35 435.89 L103.14 435.07 L103.92 434.22 L104.71 433.34 L105.49 432.44 L106.28 431.52 L107.06 430.57 L107.85 429.59" stroke="#0000ff" stroke-linecap="round"/>
<path d="M92.93 464.89 L94.03 464.68 L95.13 464.48 L96.23 464.28 L97.33 464.08 L98.43 463.87 L99.53 463.67 L100.62 463.46 L101.72 463.25 L102.82 463.04 L103.92 462.82 L105.02 462.61 L106.12 462.39 L107.22 462.17 L108.32 461.94 L109.42 461.72 L110.52 461.49 L111.61 461.25 L112.71 461.02 L113.81 460.78" stroke="#0000ff" stroke-linecap="round"/>
</g>
<g stroke="#000" fill="none">
<rect x="81.00" y="147.80" width="298.30" height="371.40" stroke-width="1.6"/>
<path d="M86.97 519.20 v-3.80 M86.97 147.80 v3.80 M98.90 519.20 v-3.80 M98.90 147.80 v3.80 M110.83 519.20 v-6.80 M110.83 147.80 v6.80 M122.76 519.20 v-3.80 M122.76 147.80 v3.80 M134.69 519.20 v-3.80 M134.69 147.80 v3.80 M146.63 519.20 v-3.80 M146.63 147.80 v3.80 M158.56 519.20 v-3.80 M158.56 147.80 v3.80 M170.49 519.20 v-6.80 M170.49 147.80 v6.80 M182.42 519.20 v-3.80 M182.42 147.80 v3.80 M194.35 519.20 v-3.80 M194.35 147.80 v3.80 M206.29 519.20 v-3.80 M206.29 147.80 v3.80 M218.22 519.20 v-3.80 M218.22 147.80 v3.80 M230.15 519.20 v-6.80 M230.15 147.80 v6.80 M242.08 519.20 v-3.80 M242.08 147.80 v3.80 M254.01 519.20 v-3.80 M254.01 147.80 v3.80 M265.95 519.20 v-3.80 M265.95 147.80 v3.80 M277.88 519.20 v-3.80 M277.88 147.80 v3.80 M289.81 519.20 v-6.80 M289.81 147.80 v6.80 M301.74 519.20 v-3.80 M301.74 147.80 v3.80 M313.67 519.20 v-3.80 M313.67 147.80 v3.80 M325.61 519.20 v-3.80 M325.61 147.80 v3.80 M337.54 519.20 v-3.80 M337.54 147.80 v3.80 M349.47 519.20 v-6.80 M349.47 147.80 v6.80 M361.40 519.20 v-3.80 M361.40 147.80 v3.80 M373.33 519.20 v-3.80 M373.33 147.80 v3.80 M81.00 519.20 h6.80 M379.30 519.20 h-6.80 M81.00 511.37 h3.80 M379.30 511.37 h-3.80 M81.00 503.55 h3.80 M379.30 503.55 h-3.80 M81.00 495.72 h3.80 M379.30 495.72 h-3.80 M81.00 487.90 h3.80 M379.30 487.90 h-3.80 M81.00 480.07 h6.80 M379.30 480.07 h-6.80 M81.00 472.24 h3.80 M379.30 472.24 h-3.80 M81.00 464.42 h3.80 M379.30 464.42 h-3.80 M81.00 456.59 h3.80 M379.30 456.59 h-3.80 M81.00 448.77 h3.80 M379.30 448.77 h-3.80 M81.00 440.94 h6.80 M379.30 440.94 h-6.80 M81.00 433.11 h3.80 M379.30 433.11 h-3.80 M81.00 425.29 h3.80 M379.30 425.29 h-3.80 M81.00 417.46 h3.80 M379.30 417.46 h-3.80 M81.00 409.64 h3.80 M379.30 409.64 h-3.80 M81.00 401.81 h6.80 M379.30 401.81 h-6.80 M81.00 393.98 h3.80 M379.30 393.98 h-3.80 M81.00 386.16 h3.80 M379.30 386.16 h-3.80 M81.00 378.33 h3.80 M379.30 378.33 h-3.80 M81.00 370.51 h3.80 M379.30 370.51 h-3.80 M81.00 362.68 h6.80 M379.30 362.68 h-6.80 M81.00 354.85 h3.80 M379.30 354.85 h-3.80 M81.00 347.03 h3.80 M379.30 347.03 h-3.80 M81.00 339.20 h3.80 M379.30 339.20 h-3.80 M81.00 331.38 h3.80 M379.30 331.38 h-3.80 M81.00 323.55 h6.80 M379.30 323.55 h-6.80 M81.00 315.72 h3.80 M379.30 315.72 h-3.80 M81.00 307.90 h3.80 M379.30 307.90 h-3.80 M81.00 300.07 h3.80 M379.30 300.07 h-3.80 M81.00 292.25 h3.80 M379.30 292.25 h-3.80 M81.00 284.42 h6.80 M379.30 284.42 h-6.80 M81.00 276.59 h3.80 M379.30 276.59 h-3.80 M81.00 268.77 h3.80 M379.30 268.77 h-3.80 M81.00 260.94 h3.80 M379.30 260.94 h-3.80 M81.00 253.12 h3.80 M379.30 253.12 h-3.80 M81.00 245.29 h6.80 M379.30 245.29 h-6.80 M81.00 237.46 h3.80 M379.30 237.46 h-3.80 M81.00 229.64 h3.80 M379.30 229.64 h-3.80 M81.00 221.81 h3.80 M379.30 221.81 h-3.80 M81.00 213.99 h3.80 M379.30 213.99 h-3.80 M81.00 206.16 h6.80 M379.30 206.16 h-6.80 M81.00 198.33 h3.80 M379.30 198.33 h-3.80 M81.00 190.51 h3.80 M379.30 190.51 h-3.80 M81.00 182.68 h3.80 M379.30 182.68 h-3.80 M81.00 174.86 h3.80 M379.30 174.86 h-3.80 M81.00 167.03 h6.80 M379.30 167.03 h-6.80 M81.00 159.20 h3.80 M379.30 159.20 h-3.80 M81.00 151.38 h3.80 M379.30 151.38 h-3.80" stroke-width="1.6"/>
</g>
<g stroke-width="1.45" fill="none" stroke-linecap="round">
<path d="M96.2 166.4 H129.2" stroke="#000000"/>
<path d="M96.2 189.4 H129.2" stroke="#ff0000"/>
<path d="M96.2 212.4 H129.2" stroke="#00ff00"/>
<path d="M96.2 235.6 H129.2" stroke="#0000ff"/>
</g>
<g font-family="Liberation Sans, sans-serif" fill="#000">
<g font-weight="bold" font-size="15.6px" text-anchor="end" stroke="#000" stroke-width="0.3">
<text x="74.2" y="523.80">0.0</text>
<text x="74.2" y="484.67">0.1</text>
<text x="74.2" y="445.54">0.2</text>
<text x="74.2" y="406.41">0.3</text>
<text x="74.2" y="367.28">0.4</text>
<text x="74.2" y="328.15">0.5</text>
<text x="74.2" y="289.02">0.6</text>
<text x="74.2" y="249.89">0.7</text>
<text x="74.2" y="210.76">0.8</text>
<text x="74.2" y="171.63">0.9</text>
</g>
<g font-weight="bold" font-size="15.3px" text-anchor="middle" stroke="#000" stroke-width="0.3">
<text x="110.83" y="538.4">1</text>
<text x="170.49" y="538.4">2</text>
<text x="230.15" y="538.4">3</text>
<text x="289.81" y="538.4">4</text>
<text x="349.47" y="538.4">5</text>
</g>
<text transform="translate(132.9,171.2) scale(1.12,1)" font-size="14.8px" font-family="Liberation Serif, serif" stroke="#000" stroke-width="0.35">μ</text>
<text x="140.6" y="176.8" font-size="8.7px" font-weight="bold" stroke="#000" stroke-width="0.3">q0</text>
<text x="151.0" y="171.5" font-size="14.1px" font-weight="bold" stroke="#000" stroke-width="0.3">=0.000GeV</text>
<text transform="translate(132.9,194.1) scale(1.12,1)" font-size="14.8px" font-family="Liberation Serif, serif" stroke="#000" stroke-width="0.35">μ</text>
<text x="140.6" y="199.7" font-size="8.7px" font-weight="bold" stroke="#000" stroke-width="0.3">q0</text>
<text x="151.0" y="194.4" font-size="14.1px" font-weight="bold" stroke="#000" stroke-width="0.3">=0.284GeV</text>
<text transform="translate(132.9,217.1) scale(1.12,1)" font-size="14.8px" font-family="Liberation Serif, serif" stroke="#000" stroke-width="0.35">μ</text>
<text x="140.6" y="222.7" font-size="8.7px" font-weight="bold" stroke="#000" stroke-width="0.3">q0</text>
<text x="151.0" y="217.4" font-size="14.1px" font-weight="bold" stroke="#000" stroke-width="0.3">=0.568GeV</text>
<text transform="translate(132.9,240.3) scale(1.12,1)" font-size="14.8px" font-family="Liberation Serif, serif" stroke="#000" stroke-width="0.35">μ</text>
<text x="140.6" y="245.9" font-size="8.7px" font-weight="bold" stroke="#000" stroke-width="0.3">q0</text>
<text x="151.0" y="240.6" font-size="14.1px" font-weight="bold" stroke="#000" stroke-width="0.3">=0.852GeV</text>
<text x="197.6" y="572.5" font-size="24px" font-weight="bold" font-family="Liberation Serif, serif">τ</text>
<text x="214.8" y="572.5" font-size="22px" font-weight="bold" stroke="#000" stroke-width="0.3">(fm</text>
<text x="248.9" y="571.8" font-size="18px" font-weight="bold" stroke="#000" stroke-width="0.3">)</text>
<g transform="rotate(-90)">
<text x="-375.2" y="30.3" font-size="22.5px" font-family="Liberation Serif, serif" stroke="#000" stroke-width="0.5">λ</text>
<text x="-364.8" y="35.7" font-size="22px" font-weight="bold" stroke="#000" stroke-width="0.3">g</text>
<text x="-345.3" y="29.6" font-size="15px" font-weight="bold">,</text>
<text x="-333.8" y="30.3" font-size="22.5px" font-family="Liberation Serif, serif" stroke="#000" stroke-width="0.5">λ</text>
<text x="-323.2" y="35.7" font-size="22px" font-weight="bold" stroke="#000" stroke-width="0.3">q</text>
</g>
<text transform="translate(308.5,267.1) scale(1.1,1)" font-size="22.5px" font-family="Liberation Serif, serif" stroke="#000" stroke-width="0.3">λ</text>
<text x="320.6" y="279.8" font-size="21.5px">g</text>
<text transform="translate(321.3,459.8) scale(1.1,1)" font-size="25.5px" font-family="Liberation Serif, serif" stroke="#000" stroke-width="0.3">λ</text>
<text x="335.6" y="474.7" font-size="22px">q</text>
</g>
</svg>
</body></html>
